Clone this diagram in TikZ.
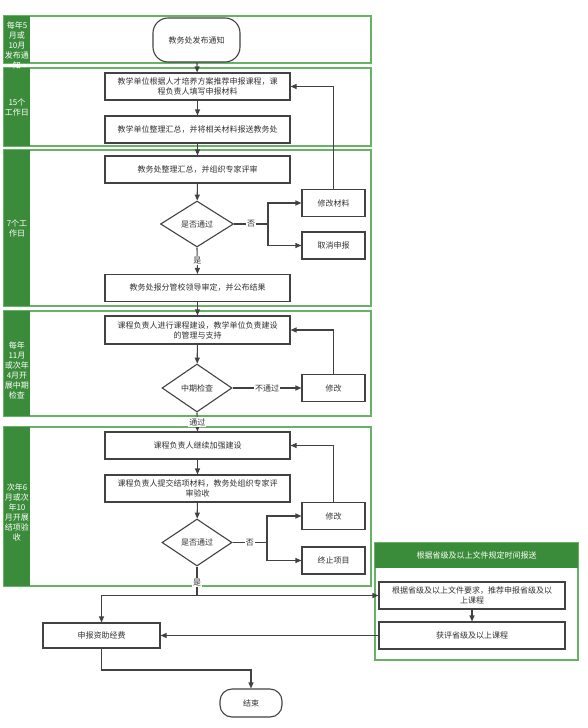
\documentclass[tikz,border=0pt]{standalone}
\usepackage{fontspec}
\setmainfont{Noto Sans CJK SC}
\usetikzlibrary{arrows.meta,shapes.geometric}
\definecolor{lanegreen}{RGB}{104,178,104}
\definecolor{sidegreen}{RGB}{58,140,58}
\definecolor{ink}{RGB}{66,66,66}
\definecolor{txt}{RGB}{50,50,50}
\begin{document}
\begin{tikzpicture}[x=1pt,y=-1pt,
  f8/.style={font=\fontsize{8}{10}\selectfont},
  box/.style={draw=ink, line width=1.1pt, fill=white, minimum width=185pt, minimum height=27pt, inner sep=1pt, align=center, text=txt, f8},
  sbox/.style={box, minimum width=63pt},
  rbox/.style={box, minimum width=186pt},
  term/.style={box, rounded corners=14pt},
  dia/.style={diamond, draw=ink, line width=1.1pt, fill=white, inner sep=0pt, text=txt, f8},
  lane/.style={draw=lanegreen, line width=1.2pt},
  sidetxt/.style={text=white, align=center, inner sep=0pt, font=\fontsize{8}{10}\selectfont},
  lbl/.style={fill=white, inner sep=1pt, text=txt, f8},
  ln/.style={draw=ink, line width=1.1pt},
  arr/.style={ln, -{Triangle[length=6pt,width=5pt]}}
]
\useasboundingbox (0,0) rectangle (588,728);

% lanes
\draw[lane] (4,16) rectangle (371,63);
\draw[lane] (4,68) rectangle (371,146);
\draw[lane] (4,150) rectangle (371,306);
\draw[lane] (4,311) rectangle (371,416);
\draw[lane] (4,427) rectangle (371,586);
\fill[sidegreen] (4,16) rectangle (30,63);
\fill[sidegreen] (4,68) rectangle (30,146);
\fill[sidegreen] (4,150) rectangle (30,306);
\fill[sidegreen] (4,311) rectangle (30,416);
\fill[sidegreen] (4,427) rectangle (30,586);
\node[sidetxt] (s1) at (17,45) {每年5\\月或\\10月\\发布通\\知};
\node[sidetxt] (s2) at (17,107) {15个\\工作日};
\node[sidetxt] (s3) at (17,228) {7个工\\作日};
\node[sidetxt] (s4) at (17,370) {每年\\11月\\或次年\\4月开\\展中期\\检查};
\node[sidetxt] (s5) at (17,512) {次年6\\月或次\\年10\\月开展\\结项验\\收};

% right panel
\draw[lane] (375,543) rectangle (578,660);
\fill[sidegreen] (375,543) rectangle (578,568);
\node[text=white, f8] (rh) at (476.5,555.5) {根据省级及以上文件规定时间报送};

% nodes
\node[term, minimum width=87pt, minimum height=44pt, rounded corners=15pt] (t1) at (196.5,40) {教务处发布通知};
\node[box] (b1) at (197.5,86.5) {教学单位根据人才培养方案推荐申报课程，课\\程负责人填写申报材料};
\node[box] (b2) at (197.5,129.5) {教学单位整理汇总，并将相关材料报送教务处};
\node[box] (b3) at (197.5,169.5) {教务处整理汇总，并组织专家评审};
\node[dia, minimum width=73pt, minimum height=46pt] (d1) at (197,224) {是否通过};
\node[sbox] (m1) at (333.5,203) {修改材料};
\node[sbox] (c1) at (333.5,245.5) {取消申报};
\node[box] (b4) at (197.5,288) {教务处报分管校领导审定，并公布结果};
\node[box, minimum height=28pt] (b5) at (197.5,330) {课程负责人进行课程建设，教学单位负责建设\\的管理与支持};
\node[dia, minimum width=70pt, minimum height=48pt] (d2) at (197,388) {中期检查};
\node[sbox] (m2) at (333.5,388) {修改};
\node[box] (b6) at (197.5,445.5) {课程负责人继续加强建设};
\node[box] (b7) at (197.5,488.5) {课程负责人提交结项材料，教务处组织专家评\\审验收};
\node[dia, minimum width=70pt, minimum height=47pt] (d3) at (197,542.5) {是否通过};
\node[sbox] (m3) at (333.5,516) {修改};
\node[sbox] (c3) at (333.5,560.5) {终止项目};
\node[rbox] (r1) at (472,595.5) {根据省级及以上文件要求，推荐申报省级及以\\上课程};
\node[rbox] (r2) at (472,635.5) {获评省级及以上课程};
\node[box, minimum width=117pt, minimum height=25pt] (f) at (101.5,635.5) {申报资助经费};
\node[term, minimum width=62pt, minimum height=28pt, rounded corners=12pt] (e) at (251,703) {结束};

% coordinates
\coordinate (br1) at (268,224);
\coordinate (br3) at (267,542.5);
\coordinate (j) at (197,595.5);
\coordinate (k) at (101.5,670);

% connectors
\draw[arr] (t1) -- (b1);
\draw[arr] (b1) -- (b2);
\draw[arr] (b2) -- (b3);
\draw[arr] (b3) -- (d1);
\draw[ln] (d1.east) -- node[lbl] {否} (br1);
\draw[arr] (br1) |- (m1.west);
\draw[arr] (br1) |- (c1.west);
\draw[arr] (m1.north) |- (b1.east);
\draw[arr] (d1.south) -- node[lbl] {是} (b4.north);
\draw[arr] (b4) -- (b5);
\draw[arr] (b5) -- (d2);
\draw[arr] (d2.east) -- node[lbl] {不通过} (m2.west);
\draw[arr] (m2.north) |- (b5.east);
\draw[arr] (d2.south) -- node[lbl] {通过} (b6.north);
\draw[arr] (b6) -- (b7);
\draw[arr] (b7) -- (d3);
\draw[ln] (d3.east) -- node[lbl] {否} (br3);
\draw[arr] (br3) |- (m3.west);
\draw[arr] (br3) |- (c3.west);
\draw[arr] (m3.north) |- (b6.east);
\draw[ln] (d3.south) -- node[lbl, pos=0.55] {是} (j);
\draw[arr] (j) -| (f.north);
\draw[arr] (j) -- (r1.west);
\draw[arr] (r1) -- (r2);
\draw[arr] (r2.west) -- (f.east);
\draw[arr] (f.south) -- (k) -| (e.north);
\end{tikzpicture}
\end{document}
